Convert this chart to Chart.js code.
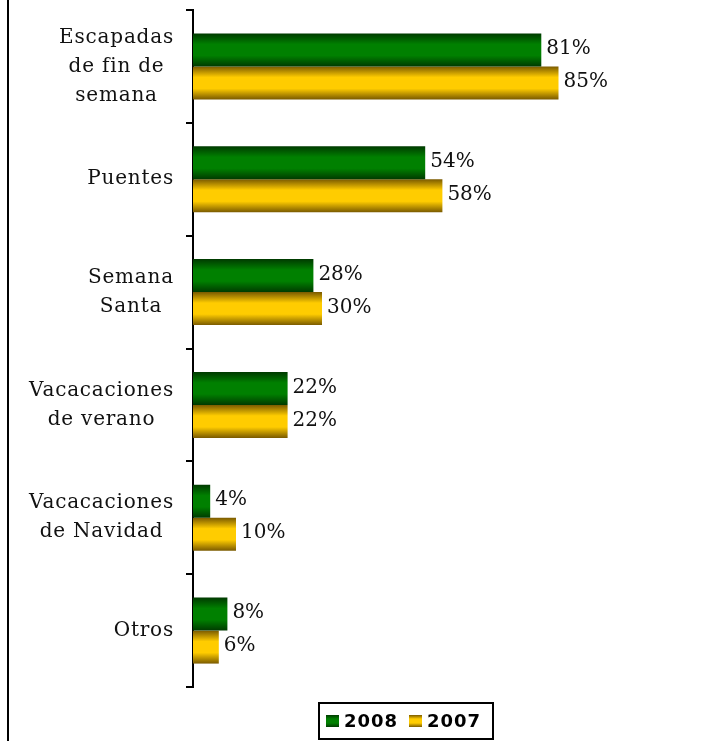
<!DOCTYPE html>
<html>
<head>
<meta charset="utf-8">
<script src="https://cdn.jsdelivr.net/npm/chart.js@4"></script>
<style>
    body { margin: 0; background: #fff; }
</style>
</head>
<body>
<canvas id="chart" width="717" height="741"></canvas>
<script>
const categories = [
    ["Escapadas", "de fin de", "semana"],
    ["Puentes"],
    ["Semana", "Santa"],
    ["Vacacaciones", "de verano"],
    ["Vacacaciones", "de Navidad"],
    ["Otros"]
];
const series2008 = [81, 54, 28, 22, 4, 8];
const series2007 = [85, 58, 30, 22, 10, 6];
const seriesNames = ["2008", "2007"];

const CAT_PCT = 0.585;
const serif = "'DejaVu Serif', serif";

// colores: borde oscuro, centro claro
const palettes = [
    { dark: "#003a00", light: "#008000" },
    { dark: "#7a5a00", light: "#ffcc00" }
];

function makeGradient(ctx, top, bottom, pal) {
    let g = ctx.createLinearGradient(0, top, 0, bottom);
    g.addColorStop(0, pal.dark);
    g.addColorStop(0.33, pal.light);
    g.addColorStop(0.67, pal.light);
    g.addColorStop(1, pal.dark);
    return g;
}

function barFill(context) {
    const chart = context.chart;
    const pal = palettes[context.datasetIndex];
    const yScale = chart.scales.y;
    if (!chart.chartArea || !yScale) return pal.light;
    const cat = (yScale.bottom - yScale.top) / categories.length;
    const barH = cat * CAT_PCT / 2;
    const center = yScale.getPixelForValue(context.dataIndex);
    const top = center - barH + context.datasetIndex * barH;
    return makeGradient(chart.ctx, top, top + barH, pal);
}

const extras = {
    id: "extras",
    afterDraw(chart) {
        const ctx = chart.ctx;
        const yScale = chart.scales.y;
        ctx.save();

        // marco izquierdo
        ctx.strokeStyle = "#000";
        ctx.lineWidth = 2;
        ctx.beginPath();
        ctx.moveTo(8, 0);
        ctx.lineTo(8, 741);
        ctx.stroke();

        // etiquetas de categoría
        ctx.font = "20px " + serif;
        ctx.letterSpacing = "0.8px";
        ctx.fillStyle = "#111";
        ctx.textAlign = "center";
        ctx.textBaseline = "middle";
        const right = 174;
        categories.forEach((lines, i) => {
            const widest = Math.max(...lines.map(l => ctx.measureText(l).width));
            const cx = right - widest / 2;
            const cy = yScale.getPixelForValue(i);
            lines.forEach((line, j) => {
                ctx.fillText(line, cx, cy + (j - (lines.length - 1) / 2) * 29);
            });
        });

        // valores
        ctx.textAlign = "left";
        ctx.letterSpacing = "0px";
        chart.data.datasets.forEach((ds, di) => {
            chart.getDatasetMeta(di).data.forEach((bar, i) => {
                ctx.fillText(ds.data[i] + "%", bar.x + 5, bar.y - 1);
            });
        });

        // leyenda
        const lx = 319, ly = 703, lw = 174, lh = 36;
        ctx.lineWidth = 2;
        ctx.strokeRect(lx, ly, lw, lh);
        ctx.font = "bold 18px 'DejaVu Sans', sans-serif";
        ctx.letterSpacing = "1px";
        ctx.textBaseline = "middle";
        let x = 326;
        seriesNames.forEach((name, i) => {
            ctx.fillStyle = makeGradient(ctx, 715, 727, palettes[i]);
            ctx.fillRect(x, 715, 13, 12);
            ctx.fillStyle = "#000";
            ctx.fillText(name, x + 18, 722);
            x += 83;
        });
        ctx.restore();
    }
};

new Chart(document.getElementById("chart"), {
    type: "bar",
    data: {
        labels: categories,
        datasets: [
            { label: seriesNames[0], data: series2008, backgroundColor: barFill, borderWidth: 0 },
            { label: seriesNames[1], data: series2007, backgroundColor: barFill, borderWidth: 0 }
        ]
    },
    options: {
        indexAxis: "y",
        responsive: false,
        animation: false,
        layout: { padding: { left: 186, top: 10, right: 94, bottom: 54 } },
        datasets: { bar: { barPercentage: 1, categoryPercentage: CAT_PCT } },
        scales: {
            x: { display: false, min: 0, max: 100 },
            y: {
                grid: {
                    display: true,
                    drawOnChartArea: false,
                    drawTicks: true,
                    tickLength: 7,
                    color: "#000",
                    lineWidth: 2,
                    offset: true
                },
                border: { color: "#000", width: 2 },
                ticks: { display: false }
            }
        },
        plugins: {
            legend: { display: false },
            tooltip: { enabled: false }
        }
    },
    plugins: [extras]
});
</script>
</body>
</html>
